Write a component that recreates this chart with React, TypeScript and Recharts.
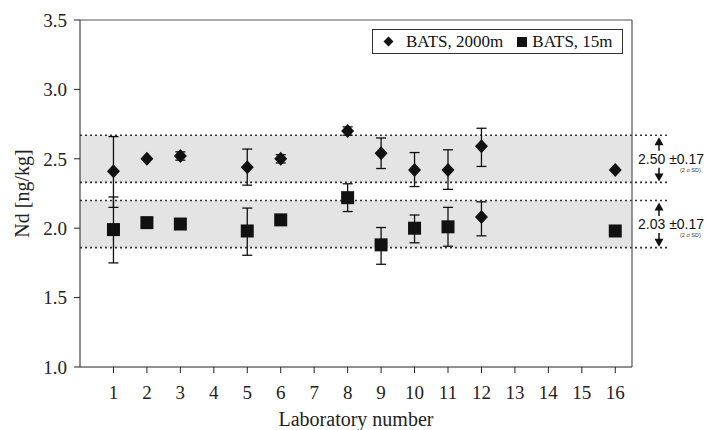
import React from 'react';
import {
  ScatterChart,
  Scatter,
  XAxis,
  YAxis,
  ErrorBar,
  ReferenceArea,
  ReferenceLine,
  Legend,
  Customized,
} from 'recharts';

// BATS 2000m  (err = [down, up], null = no bar drawn)
const labsDeep = [1, 2, 3, 5, 6, 8, 9, 10, 11, 12, 16];
const ndDeep = [2.41, 2.5, 2.52, 2.44, 2.5, 2.7, 2.54, 2.42, 2.42, 2.59, 2.42];
const errDeep = [
  [0.26, 0.25], null, [0.03, 0.03], [0.13, 0.13], [0.03, 0.03], [0.03, 0.03],
  [0.11, 0.11], [0.12, 0.125], [0.14, 0.145], [0.145, 0.13], null,
];

// BATS 15m
const labsSurf = [1, 2, 3, 5, 6, 8, 9, 10, 11, 16];
const ndSurf = [1.99, 2.04, 2.03, 1.98, 2.06, 2.22, 1.88, 2.0, 2.01, 1.98];
const errSurf = [
  [0.24, 0.235], null, null, [0.175, 0.165], null, [0.1, 0.1],
  [0.14, 0.125], [0.105, 0.095], [0.14, 0.14], null,
];

// lab 12 reported its 15m value with the diamond symbol
const labsSurfOdd = [12];
const ndSurfOdd = [2.08];
const errSurfOdd = [[0.135, 0.11]];

const xTicks = [1, 2, 3, 4, 5, 6, 7, 8, 9, 10, 11, 12, 13, 14, 15, 16];
const yTicks = [1.0, 1.5, 2.0, 2.5, 3.0, 3.5];

const bandDeep = { mean: 2.5, sd: 0.17 };
const bandSurf = { mean: 2.03, sd: 0.17 };

const toRows = (labs: number[], nd: number[], err: (number[] | null)[]) =>
  labs.map((lab, i) => ({ lab, nd: nd[i], err: err[i] }));

const deepRows = toRows(labsDeep, ndDeep, errDeep);
const surfRows = toRows(labsSurf, ndSurf, errSurf);
const surfOddRows = toRows(labsSurfOdd, ndSurfOdd, errSurfOdd);

const W = 706;
const H = 430;
const M = { top: 20, right: 74, left: 20, bottom: 3 };
const PLOT_TOP = 20;
const PLOT_BOTTOM = 367;
const X_MAX = 16.5;
const X_EXT = 17.58;

const serif = 'Liberation Serif';
const sans = 'Liberation Sans';

const yPx = (v: number) => PLOT_BOTTOM - ((v - 1) / 2.5) * (PLOT_BOTTOM - PLOT_TOP);

const Diamond = (p: any) => {
  const { cx, cy } = p;
  return <path d={`M${cx},${cy - 7} L${cx + 6.5},${cy} L${cx},${cy + 7} L${cx - 6.5},${cy} Z`} fill="#111" />;
};

const Square = (p: any) => {
  const { cx, cy } = p;
  return <rect x={cx - 6.5} y={cy - 6.5} width={13} height={13} fill="#111" />;
};

const Arrow = ({ x, y1, y2 }: { x: number; y1: number; y2: number }) => {
  // arrow pointing at y2
  const dir = y2 < y1 ? -1 : 1;
  return (
    <g>
      <line x1={x} y1={y1} x2={x} y2={y2 - dir * 6} stroke="#111" strokeWidth={1.5} />
      <path d={`M${x - 4.5},${y2 - dir * 8} L${x + 4.5},${y2 - dir * 8} L${x},${y2} Z`} fill="#111" />
    </g>
  );
};

const BandNote = ({ band }: { band: { mean: number; sd: number } }) => {
  const top = yPx(band.mean + band.sd);
  const bot = yPx(band.mean - band.sd);
  const mid = (top + bot) / 2;
  return (
    <g>
      <Arrow x={659} y1={mid - 8} y2={top + 2} />
      <Arrow x={659} y1={mid + 9} y2={bot - 1} />
      <text x={638} y={mid + 5} fontFamily={sans} fontSize={14} fill="#111">
        {band.mean.toFixed(2)} ±{band.sd.toFixed(2)}
      </text>
      <text x={680} y={mid + 13} fontFamily={sans} fontSize={5.5} fill="#333">
        (2 σ SD)
      </text>
    </g>
  );
};

const Notes = () => (
  <g>
    <BandNote band={bandDeep} />
    <BandNote band={bandSurf} />
  </g>
);

const LegendBox = () => (
  <div
    style={{
      border: '1.5px solid #333',
      height: 25,
      boxSizing: 'border-box',
      display: 'flex',
      alignItems: 'center',
      fontFamily: serif,
      fontSize: 17,
      color: '#111',
      paddingLeft: 10,
      whiteSpace: 'nowrap',
      background: '#fff',
    }}
  >
    <svg width={11} height={11} style={{ marginRight: 12 }}>
      <path d="M5.5,0.5 L10.5,5.5 L5.5,10.5 L0.5,5.5 Z" fill="#111" />
    </svg>
    <span>BATS, 2000m</span>
    <svg width={10} height={10} style={{ marginLeft: 14, marginRight: 5 }}>
      <rect x={0} y={0} width={10} height={10} fill="#111" />
    </svg>
    <span>BATS, 15m</span>
  </div>
);

export default function App() {
  const bands = [bandDeep, bandSurf];
  return (
    <div style={{ position: 'absolute', left: 0, top: 0, width: W, height: H, background: '#fff', fontFamily: serif }}>
      <ScatterChart width={W} height={H} margin={M}>
        {bands.map((b, i) => (
          <ReferenceArea
            key={`area-${i}`}
            y1={b.mean - b.sd}
            y2={b.mean + b.sd}
            fill="#e4e4e4"
            fillOpacity={1}
            stroke="none"
          />
        ))}
        {bands.flatMap((b, i) =>
          [b.mean - b.sd, b.mean + b.sd].map((v, j) => (
            <ReferenceLine
              key={`line-${i}-${j}`}
              segment={[{ x: 0, y: v }, { x: X_EXT, y: v }]}
              ifOverflow="visible"
              stroke="#333"
              strokeWidth={1.6}
              strokeDasharray="2 3"
            />
          ))
        )}
        <ReferenceLine y={3.5} stroke="#555" strokeWidth={1.2} />
        <ReferenceLine x={X_MAX} stroke="#555" strokeWidth={1.2} />
        <XAxis
          type="number"
          dataKey="lab"
          domain={[0, X_MAX]}
          ticks={xTicks}
          allowDataOverflow
          height={60}
          stroke="#222"
          tickSize={6}
          tickMargin={13}
          tick={{ fontFamily: serif, fontSize: 19, fill: '#222' }}
          label={{ value: 'Laboratory number', position: 'insideBottom', offset: 1, style: { fontFamily: serif, fontSize: 20, fill: '#222' } }}
        />
        <YAxis
          type="number"
          dataKey="nd"
          domain={[1, 3.5]}
          ticks={yTicks}
          width={60}
          stroke="#222"
          tickSize={6}
          tickMargin={7}
          tickFormatter={(v: number) => v.toFixed(1)}
          tick={{ fontFamily: serif, fontSize: 19, fill: '#222' }}
          label={{ value: 'Nd [ng/kg]', angle: -90, position: 'insideLeft', offset: 2, style: { fontFamily: serif, fontSize: 20, fill: '#222', textAnchor: 'middle' } }}
        />
        <Legend
          layout="vertical"
          align="center"
          verticalAlign="middle"
          wrapperStyle={{ left: 372, top: 29, width: 251 }}
          content={() => <LegendBox />}
        />
        <Scatter name="BATS, 2000m" data={deepRows} shape={Diamond} isAnimationActive={false}>
          <ErrorBar dataKey="err" direction="y" width={5} stroke="#111" strokeWidth={1.3} />
        </Scatter>
        <Scatter name="BATS, 15m" data={surfRows} shape={Square} isAnimationActive={false}>
          <ErrorBar dataKey="err" direction="y" width={5} stroke="#111" strokeWidth={1.3} />
        </Scatter>
        <Scatter name="BATS, 15m (lab 12)" data={surfOddRows} shape={Diamond} legendType="none" isAnimationActive={false}>
          <ErrorBar dataKey="err" direction="y" width={5} stroke="#111" strokeWidth={1.3} />
        </Scatter>
        <Customized component={Notes} />
      </ScatterChart>
    </div>
  );
}
